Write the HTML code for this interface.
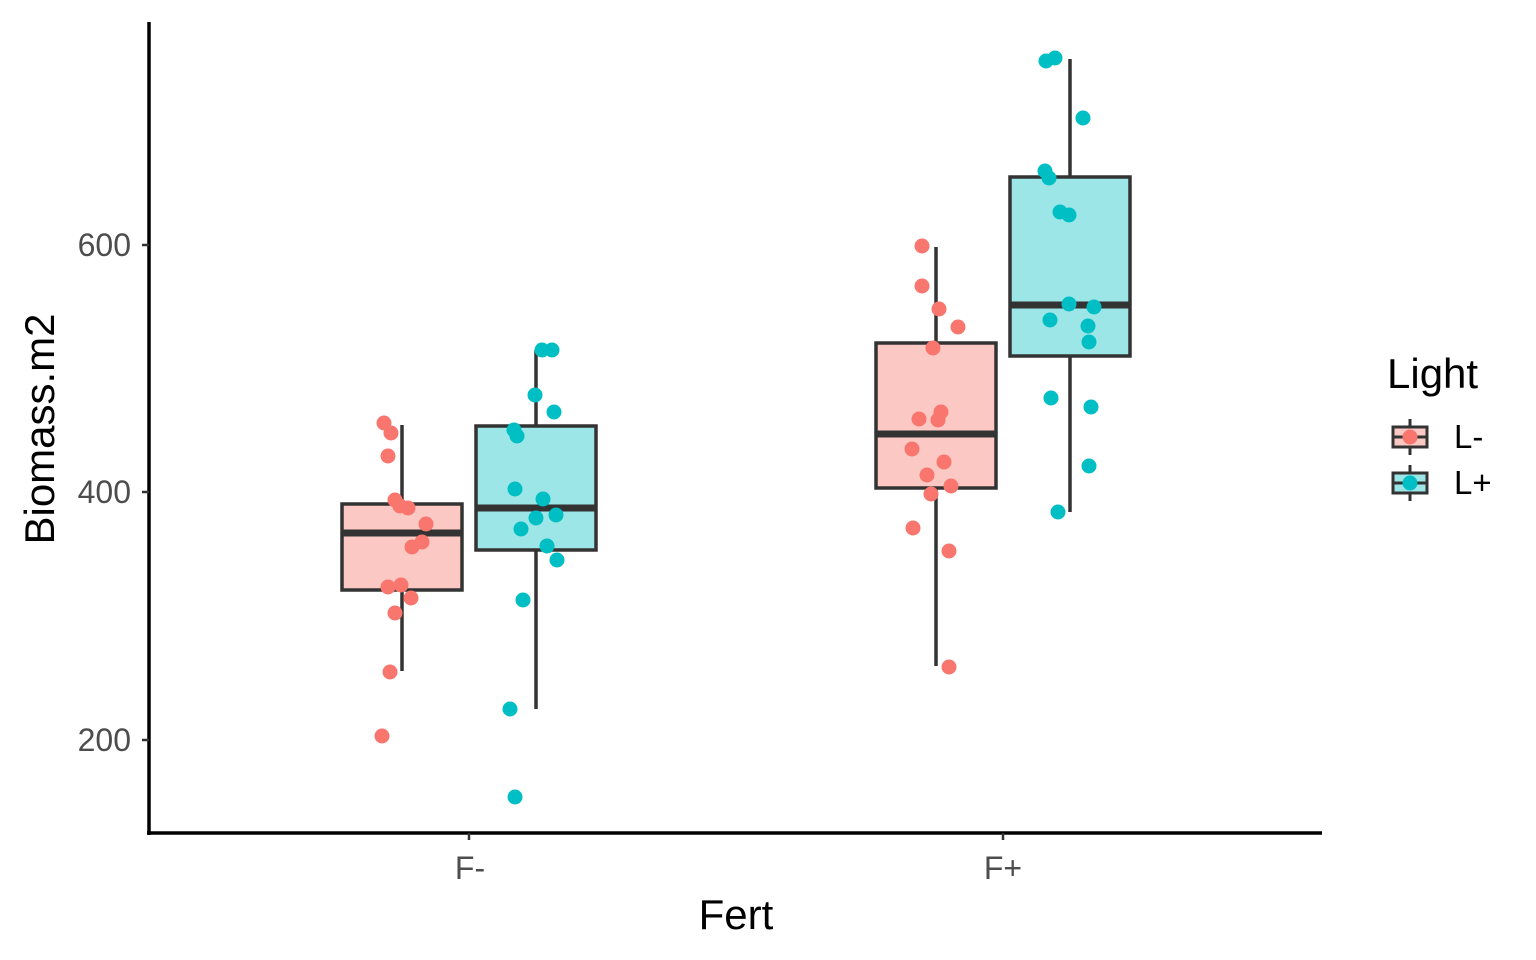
<!DOCTYPE html>
<html><head><meta charset="utf-8"><style>html,body{margin:0;padding:0;background:#fff}svg{display:block}text{font-family:"Liberation Sans",sans-serif}</style></head><body>
<svg width="1536" height="960" viewBox="0 0 1536 960" xmlns="http://www.w3.org/2000/svg">
<rect width="1536" height="960" fill="#fff"/>
<g stroke="#333" stroke-width="3.5" fill="none">
<line x1="402" y1="425" x2="402" y2="671"/>
<line x1="536" y1="350" x2="536" y2="709"/>
<line x1="936" y1="247" x2="936" y2="666"/>
<line x1="1070" y1="59" x2="1070" y2="512"/>
</g>
<g stroke="#333" stroke-width="3.5">
<rect x="342" y="504" width="120" height="86" fill="#FBC8C4"/>
<rect x="476" y="426" width="120" height="124" fill="#9DE6E8"/>
<rect x="876" y="343" width="120" height="145" fill="#FBC8C4"/>
<rect x="1010" y="177" width="120" height="179" fill="#9DE6E8"/>
</g>
<g stroke="#333" stroke-width="7">
<line x1="342" y1="533" x2="462" y2="533"/>
<line x1="476" y1="508" x2="596" y2="508"/>
<line x1="876" y1="434" x2="996" y2="434"/>
<line x1="1010" y1="305" x2="1130" y2="305"/>
</g>
<g fill="#F8766D">
<circle cx="384" cy="423" r="7.5"/><circle cx="391" cy="433" r="7.5"/><circle cx="388" cy="456" r="7.5"/><circle cx="395" cy="500" r="7.5"/><circle cx="400" cy="506" r="7.5"/><circle cx="408" cy="508" r="7.5"/><circle cx="426" cy="524" r="7.5"/><circle cx="422" cy="542" r="7.5"/><circle cx="412" cy="547" r="7.5"/><circle cx="388" cy="587" r="7.5"/><circle cx="401" cy="585" r="7.5"/><circle cx="411" cy="598" r="7.5"/><circle cx="395" cy="613" r="7.5"/><circle cx="390" cy="672" r="7.5"/><circle cx="382" cy="736" r="7.5"/>
<circle cx="922" cy="246" r="7.5"/><circle cx="922" cy="286" r="7.5"/><circle cx="939" cy="309" r="7.5"/><circle cx="958" cy="327" r="7.5"/><circle cx="933" cy="348" r="7.5"/><circle cx="919" cy="419" r="7.5"/><circle cx="941" cy="412" r="7.5"/><circle cx="938" cy="420" r="7.5"/><circle cx="912" cy="449" r="7.5"/><circle cx="944" cy="462" r="7.5"/><circle cx="927" cy="475" r="7.5"/><circle cx="951" cy="486" r="7.5"/><circle cx="931" cy="494" r="7.5"/><circle cx="913" cy="528" r="7.5"/><circle cx="949" cy="551" r="7.5"/><circle cx="949" cy="667" r="7.5"/>
</g>
<g fill="#00BFC4">
<circle cx="542" cy="350" r="7.5"/><circle cx="552" cy="350" r="7.5"/><circle cx="535" cy="395" r="7.5"/><circle cx="554" cy="412" r="7.5"/><circle cx="514" cy="430" r="7.5"/><circle cx="517" cy="436" r="7.5"/><circle cx="515" cy="489" r="7.5"/><circle cx="543" cy="499" r="7.5"/><circle cx="556" cy="515" r="7.5"/><circle cx="536" cy="518" r="7.5"/><circle cx="521" cy="529" r="7.5"/><circle cx="547" cy="546" r="7.5"/><circle cx="557" cy="560" r="7.5"/><circle cx="523" cy="600" r="7.5"/><circle cx="510" cy="709" r="7.5"/><circle cx="515" cy="797" r="7.5"/>
<circle cx="1046" cy="61" r="7.5"/><circle cx="1055" cy="58" r="7.5"/><circle cx="1083" cy="118" r="7.5"/><circle cx="1045" cy="171" r="7.5"/><circle cx="1049" cy="178" r="7.5"/><circle cx="1060" cy="212" r="7.5"/><circle cx="1069" cy="215" r="7.5"/><circle cx="1069" cy="304" r="7.5"/><circle cx="1094" cy="307" r="7.5"/><circle cx="1050" cy="320" r="7.5"/><circle cx="1088" cy="326" r="7.5"/><circle cx="1089" cy="342" r="7.5"/><circle cx="1051" cy="398" r="7.5"/><circle cx="1091" cy="407" r="7.5"/><circle cx="1089" cy="466" r="7.5"/><circle cx="1058" cy="512" r="7.5"/>
</g>
<g stroke="#000" stroke-width="3.5">
<line x1="149" y1="22" x2="149" y2="835"/>
<line x1="147" y1="833" x2="1322" y2="833"/>
</g>
<g stroke="#333" stroke-width="2.5">
<line x1="142" y1="245" x2="149" y2="245"/><line x1="142" y1="492" x2="149" y2="492"/><line x1="142" y1="740" x2="149" y2="740"/>
<line x1="469" y1="833" x2="469" y2="840"/><line x1="1003" y1="833" x2="1003" y2="840"/>
</g>
<g fill="#4d4d4d" font-size="32" text-anchor="end">
<text x="131" y="256">600</text><text x="131" y="503">400</text><text x="131" y="751">200</text>
</g>
<g fill="#4d4d4d" font-size="32" text-anchor="middle">
<text x="470" y="879">F-</text><text x="1003" y="879">F+</text>
</g>
<text x="736" y="929" font-size="42" text-anchor="middle">Fert</text>
<text transform="translate(54,429) rotate(-90)" font-size="42" text-anchor="middle">Biomass.m2</text>
<text x="1387" y="388" font-size="42">Light</text>
<g stroke="#333" stroke-width="3">
<line x1="1410" y1="419" x2="1410" y2="455"/>
<rect x="1393" y="427" width="34" height="20" fill="#FBC8C4"/>
<line x1="1393" y1="437" x2="1427" y2="437"/>
<line x1="1410" y1="465" x2="1410" y2="501"/>
<rect x="1393" y="473" width="34" height="20" fill="#9DE6E8"/>
<line x1="1393" y1="483" x2="1427" y2="483"/>
</g>
<circle cx="1410" cy="437" r="7.5" fill="#F8766D"/>
<circle cx="1410" cy="483" r="7.5" fill="#00BFC4"/>
<g font-size="33"><text x="1454" y="448">L-</text><text x="1454" y="494">L+</text></g>
</svg>
</body></html>
